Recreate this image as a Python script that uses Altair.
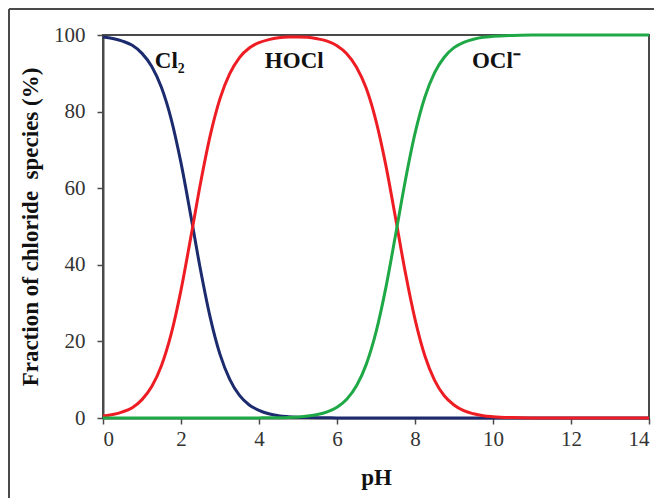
import altair as alt
import pandas as pd

# pH values and estimated species fractions (%)
ph = [0, 0.25, 0.5, 0.75, 1.0, 1.25, 1.5, 1.75, 2.0, 2.25, 2.5, 2.75, 3.0, 3.25, 3.5, 3.75,
      4.0, 4.25, 4.5, 4.75, 5.0, 5.25, 5.5, 5.75, 6.0, 6.25, 6.5, 6.75, 7.0, 7.25, 7.5, 7.75,
      8.0, 8.25, 8.5, 8.75, 9.0, 9.25, 9.5, 9.75, 10.0, 10.5, 11.0, 11.5, 12.0, 13.0, 14.0]
cl2 = [99.5, 99.1, 98.4, 97.3, 95.2, 91.8, 86.3, 78.0, 66.6, 52.9, 38.7, 26.2, 16.6, 10.1, 5.9, 3.4,
       2.0, 1.1, 0.6, 0.35, 0.2, 0.11, 0.06, 0.04, 0.02, 0.01, 0, 0, 0, 0, 0, 0,
       0, 0, 0, 0, 0, 0, 0, 0, 0, 0, 0, 0, 0, 0, 0]
hocl = [0.5, 0.9, 1.6, 2.7, 4.8, 8.2, 13.7, 22.0, 33.4, 47.1, 61.3, 73.8, 83.4, 89.9, 94.1, 96.6,
        98.0, 98.8, 99.3, 99.5, 99.5, 99.4, 99.0, 98.4, 97.2, 95.1, 91.6, 86.1, 77.6, 66.1, 52.3, 38.1,
        25.8, 16.3, 9.9, 5.8, 3.4, 1.9, 1.1, 0.6, 0.35, 0.11, 0.03, 0.01, 0, 0, 0]
ocl = [0, 0, 0, 0, 0, 0, 0, 0, 0, 0, 0, 0, 0, 0, 0, 0.01,
       0.03, 0.05, 0.09, 0.16, 0.29, 0.51, 0.9, 1.6, 2.8, 4.9, 8.4, 14.0, 22.4, 33.9, 47.7, 61.9,
       74.3, 83.7, 90.1, 94.2, 96.7, 98.1, 98.9, 99.4, 99.65, 99.89, 99.97, 99.99, 100, 100, 100]

species = ["Cl2", "HOCl", "OCl-"]
colors = ["#1c2a6e", "#ee1d23", "#1fa846"]

# species labels on the plot
label_text = ["Cl\u2082", "HOCl", "OCl\u207b"]
label_x = [1.33, 4.15, 9.46]
label_y = [91.4, 91.4, 91.4]

rows = []
for name, vals in zip(species, [cl2, hocl, ocl]):
    for i, (p, v) in enumerate(zip(ph, vals)):
        rows.append({"pH": p, "frac": v, "species": name, "order": i})
df = pd.DataFrame(rows)
labels = pd.DataFrame({"text": label_text, "x": label_x, "y": label_y})

FONT = "Liberation Serif"
FRAME = "#4a4a4a"

xscale = alt.Scale(domain=[0, 14], nice=False)
yscale = alt.Scale(domain=[0, 100], nice=False)

lines = alt.Chart(df).mark_line(strokeWidth=3, interpolate="monotone").encode(
    x=alt.X("pH:Q", scale=xscale,
            axis=alt.Axis(title="pH", values=list(range(0, 15)),
                          labelExpr="datum.value % 2 == 0 ? datum.label : ''",
                          titleY=66, titleBaseline="alphabetic", titleFontSize=23)),
    y=alt.Y("frac:Q", scale=yscale,
            axis=alt.Axis(title="Fraction of chloride\u00a0\u00a0species (%)", values=list(range(0, 101, 10)),
                          labelExpr="datum.value % 20 == 0 ? datum.label : ''",
                          titleX=-61, titleBaseline="bottom", titleFontSize=23, labelPadding=12)),
    color=alt.Color("species:N", scale=alt.Scale(domain=species, range=colors), legend=None),
    order="order:Q",
    detail="species:N",
)

text = alt.Chart(labels).mark_text(
    font=FONT, fontSize=23, fontWeight="bold", align="left", baseline="alphabetic", color="#111"
).encode(x=alt.X("x:Q", scale=xscale), y=alt.Y("y:Q", scale=yscale), text="text:N")

top_rule = alt.Chart(labels).mark_rule(color=FRAME, strokeWidth=2).encode(
    x=alt.value(-94), x2=alt.value(600), y=alt.value(-26))
left_rule = alt.Chart(labels).mark_rule(color=FRAME, strokeWidth=2).encode(
    x=alt.value(-94), y=alt.value(-26), y2=alt.value(500))

chart = alt.layer(top_rule, left_rule, lines, text).properties(
    width=546, height=383,
    autosize=alt.AutoSizeParams(type="none"),
    padding={"left": 95, "top": 27, "right": 5, "bottom": 80},
).configure_view(
    stroke=FRAME, strokeWidth=2
).configure_axis(
    grid=False, domainColor=FRAME, domainWidth=2, tickColor=FRAME, tickWidth=1.5, tickSize=6,
    labelFont=FONT, labelFontSize=21, labelColor="#333", labelPadding=4,
    titleFont=FONT, titleFontWeight="bold", titleColor="#111",
)

chart.save("out.html", embed_options={"renderer": "svg", "actions": False})
